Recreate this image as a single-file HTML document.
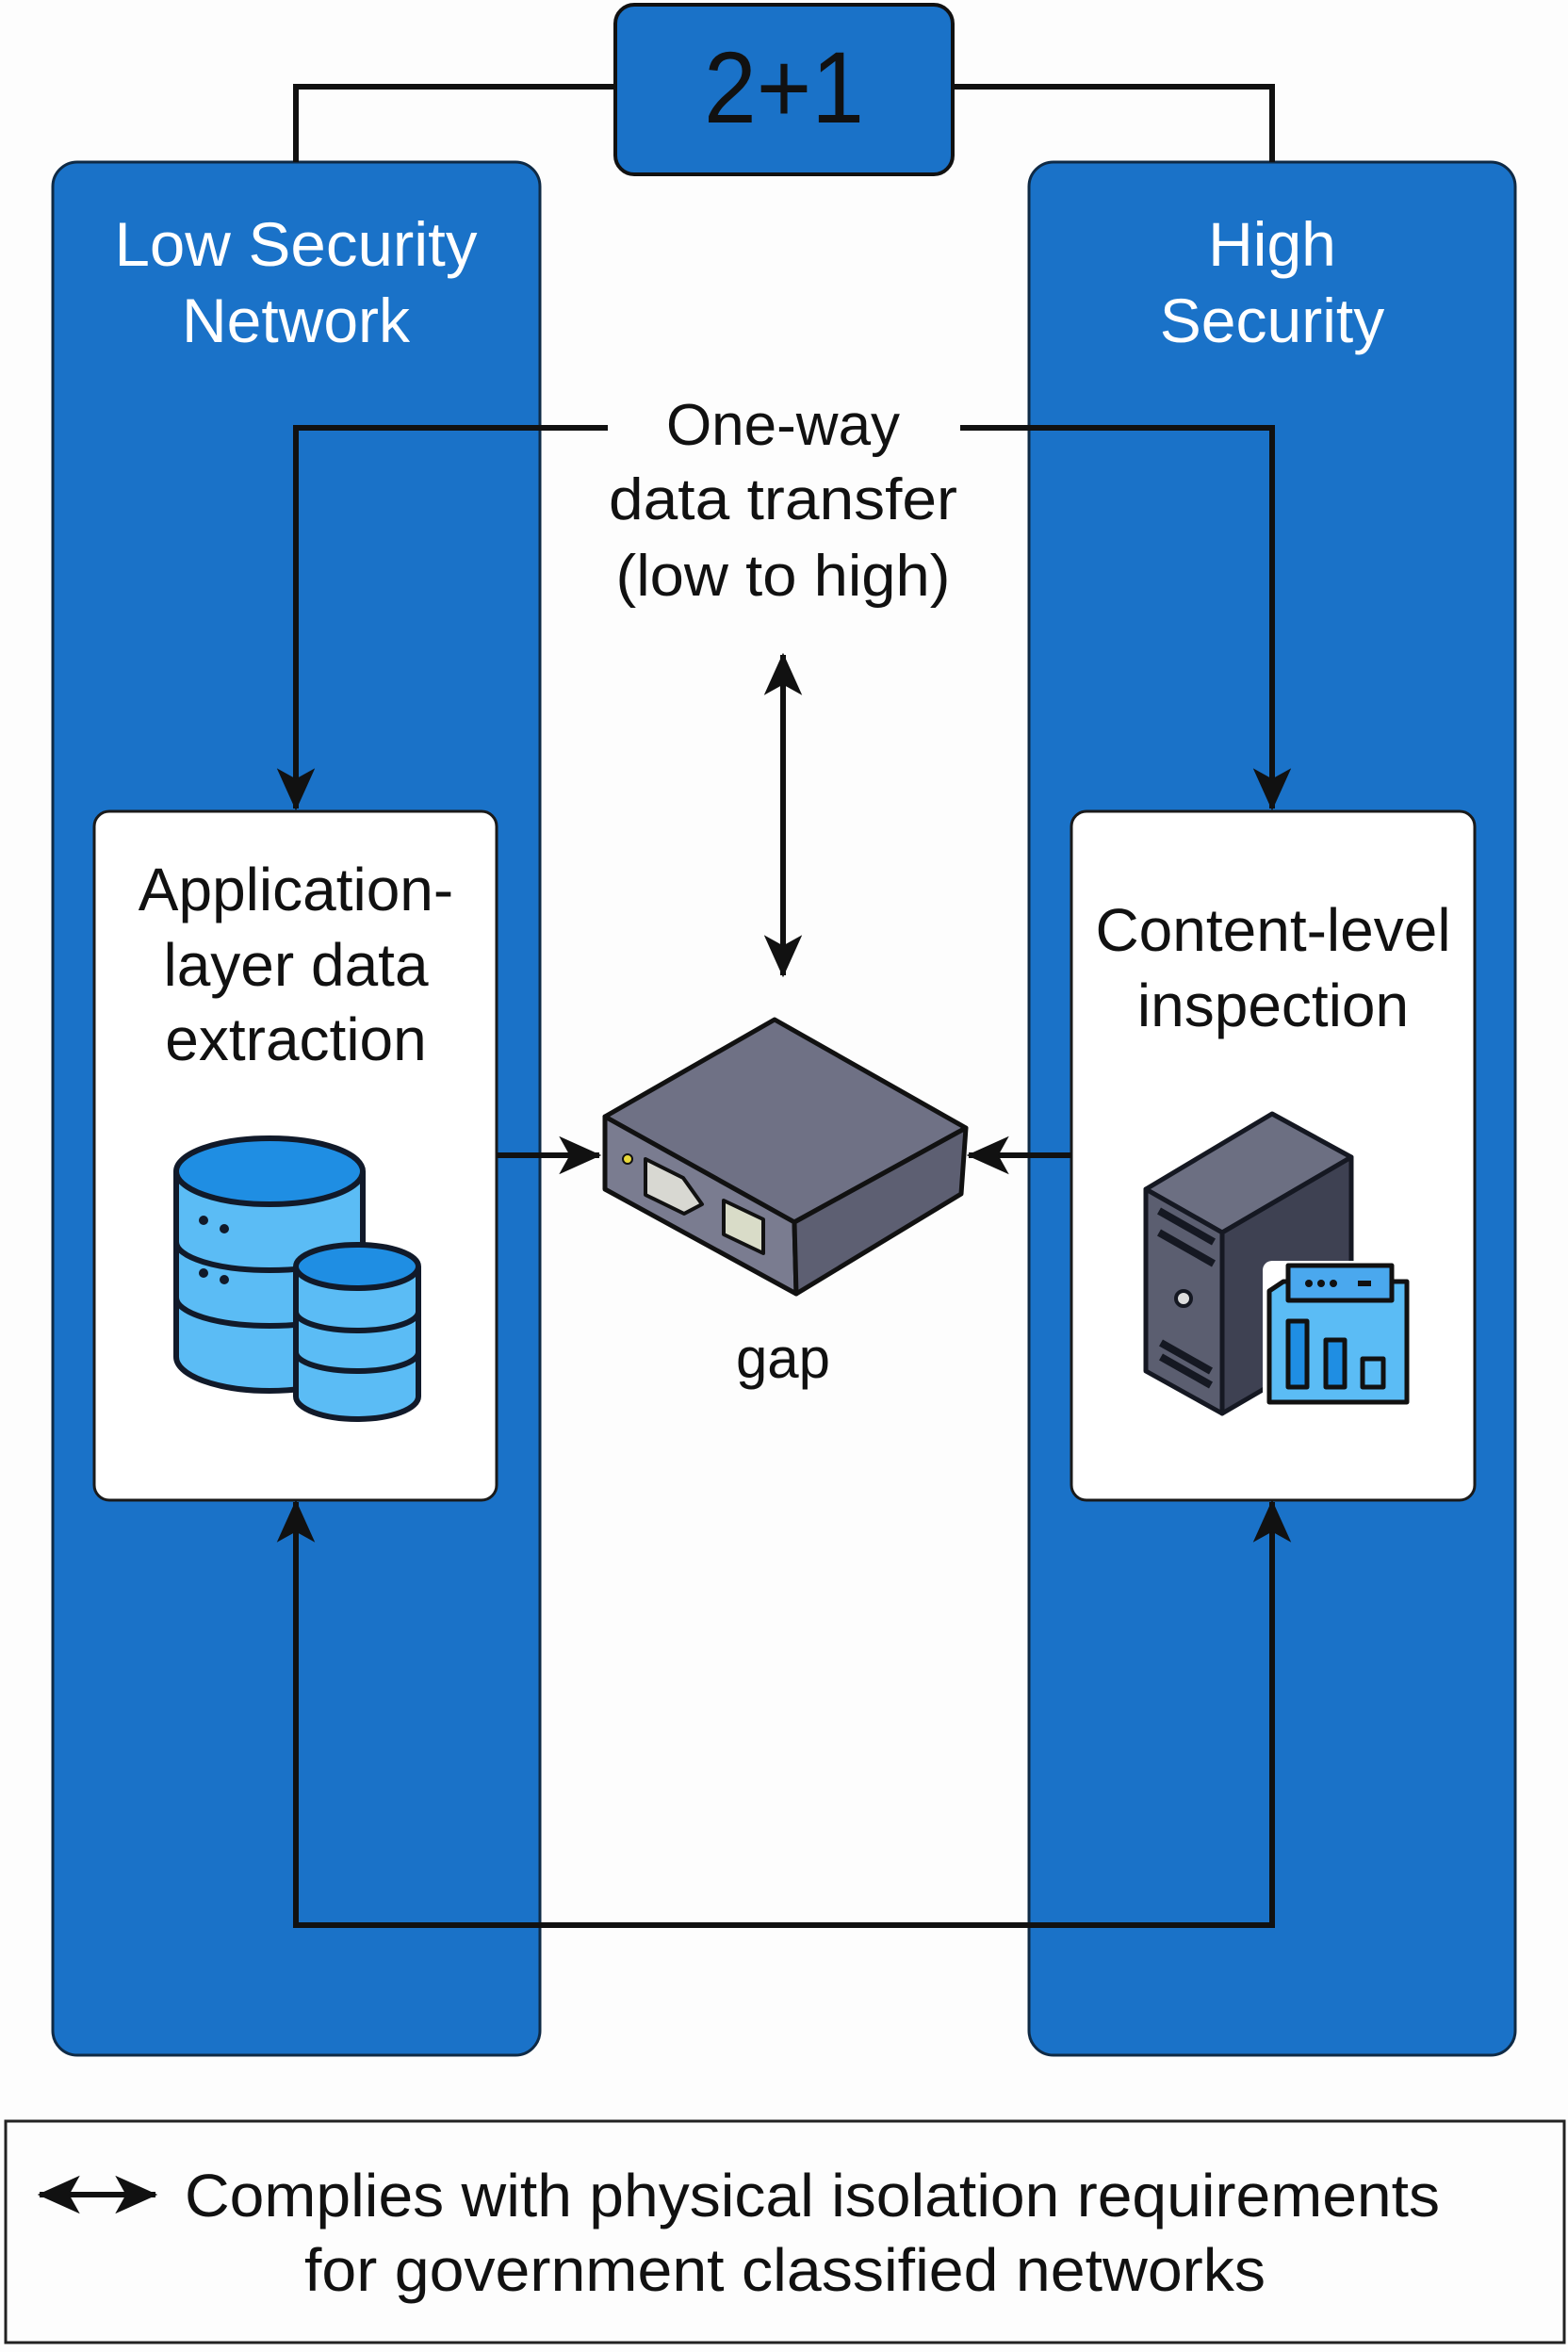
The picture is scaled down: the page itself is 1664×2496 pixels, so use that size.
<!DOCTYPE html>
<html><head><meta charset="utf-8"><style>
html,body{margin:0;padding:0;background:#fdfdfd;}
svg{display:block;}
text{font-family:"Liberation Sans",sans-serif;}
</style></head><body>
<svg width="1664" height="2496" viewBox="0 0 1664 2496" xmlns="http://www.w3.org/2000/svg">
<defs>
<marker id="ah" viewBox="0 0 20 20" refX="19" refY="10" markerWidth="7.5" markerHeight="7.5" orient="auto-start-reverse" markerUnits="strokeWidth">
<path d="M0,1 L20,10 L0,19 L5,10 Z" fill="#111"/>
</marker>
</defs>
<rect width="1664" height="2496" fill="#fdfdfd"/>
<!-- columns -->
<rect x="56" y="172" width="517" height="2009" rx="26" fill="#1a72c8" stroke="#0f2a45" stroke-width="3"/>
<rect x="1092" y="172" width="516" height="2009" rx="26" fill="#1a72c8" stroke="#0f2a45" stroke-width="3"/>
<!-- top connector -->
<path d="M314,172 V92 H653 M1011,92 H1350 V172" fill="none" stroke="#111" stroke-width="6"/>
<rect x="653" y="5" width="358" height="180" rx="20" fill="#1a72c8" stroke="#111" stroke-width="4"/>
<text x="832" y="130" font-size="108" text-anchor="middle" fill="#111" textLength="170" lengthAdjust="spacingAndGlyphs">2+1</text>
<!-- titles -->
<text x="314" y="282" font-size="66" text-anchor="middle" fill="#fff" textLength="385" lengthAdjust="spacingAndGlyphs">Low Security</text>
<text x="314" y="363" font-size="66" text-anchor="middle" fill="#fff">Network</text>
<text x="1350" y="282" font-size="66" text-anchor="middle" fill="#fff">High</text>
<text x="1350" y="363" font-size="66" text-anchor="middle" fill="#fff">Security</text>
<!-- middle label area -->
<rect x="645" y="410" width="374" height="250" fill="#fdfdfd"/>
<text x="831" y="472" font-size="62" text-anchor="middle" fill="#111">One-way</text>
<text x="831" y="551" font-size="62" text-anchor="middle" fill="#111" textLength="370" lengthAdjust="spacingAndGlyphs">data transfer</text>
<text x="831" y="632" font-size="62" text-anchor="middle" fill="#111" textLength="355" lengthAdjust="spacingAndGlyphs">(low to high)</text>
<!-- top lines -->
<path d="M645,454 H314 V858" fill="none" stroke="#111" stroke-width="6" marker-end="url(#ah)"/>
<path d="M1019,454 H1350 V858" fill="none" stroke="#111" stroke-width="6" marker-end="url(#ah)"/>
<line x1="831" y1="695" x2="831" y2="1035" stroke="#111" stroke-width="6" marker-start="url(#ah)" marker-end="url(#ah)"/>
<!-- white boxes -->
<rect x="100" y="861" width="427" height="731" rx="16" fill="#fff" stroke="#1a1a1a" stroke-width="3"/>
<rect x="1137" y="861" width="428" height="731" rx="16" fill="#fff" stroke="#1a1a1a" stroke-width="3"/>
<text x="314" y="966" font-size="64" text-anchor="middle" fill="#111">Application-</text>
<text x="314" y="1046" font-size="64" text-anchor="middle" fill="#111">layer data</text>
<text x="314" y="1125" font-size="64" text-anchor="middle" fill="#111">extraction</text>
<text x="1351" y="1009" font-size="64" text-anchor="middle" fill="#111">Content-level</text>
<text x="1351" y="1089" font-size="64" text-anchor="middle" fill="#111">inspection</text>
<!-- DB icon -->
<g stroke="#111a2a" stroke-width="6">
<path d="M187,1243 V1440 A99,36 0 0 0 385,1440 V1243" fill="#5bbcf5"/>
<ellipse cx="286" cy="1243" rx="99" ry="35" fill="#1f8ee3"/>
<path d="M187,1318 A99,30 0 0 0 385,1318 M187,1377 A99,30 0 0 0 385,1377" fill="none"/>
<path d="M314,1344 V1482 A65,24 0 0 0 444,1482 V1344" fill="#5bbcf5"/>
<ellipse cx="379" cy="1344" rx="65" ry="23" fill="#1f8ee3"/>
<path d="M314,1392 A65,20 0 0 0 444,1392 M314,1435 A65,20 0 0 0 444,1435" fill="none"/>
</g>
<g fill="#111a2a"><circle cx="216" cy="1295" r="5"/><circle cx="238" cy="1304" r="5"/><circle cx="216" cy="1351" r="5"/><circle cx="238" cy="1358" r="5"/></g>
<!-- server icon -->
<g stroke="#151822" stroke-width="5" stroke-linejoin="round">
<path d="M1216,1262 L1350,1182 L1434,1228 L1297,1308 Z" fill="#6c6f82"/>
<path d="M1297,1308 L1434,1228 L1434,1420 L1297,1500 Z" fill="#3e4152"/>
<path d="M1216,1262 L1297,1308 L1297,1500 L1216,1455 Z" fill="#5b5e70"/>
</g>
<path d="M1230,1285 L1288,1318 M1230,1308 L1288,1341 M1232,1425 L1285,1455 M1232,1440 L1285,1470" stroke="#151822" stroke-width="8"/>
<circle cx="1256" cy="1378" r="8" fill="#ddd" stroke="#151822" stroke-width="4"/>
<rect x="1340" y="1338" width="160" height="158" rx="10" fill="#fff"/>
<g stroke="#111" stroke-width="5" stroke-linejoin="round">
<path d="M1347,1370 L1362,1360 L1493,1360 L1493,1488 L1347,1488 Z" fill="#5bbcf5"/>
<rect x="1367" y="1343" width="110" height="37" fill="#4aa8ee"/>
<rect x="1367" y="1402" width="20" height="70" fill="#1f8ee3"/>
<rect x="1407" y="1422" width="20" height="50" fill="#1f8ee3"/>
<rect x="1446" y="1442" width="22" height="30" fill="#5bbcf5"/>
</g>
<g fill="#111"><circle cx="1389" cy="1362" r="4"/><circle cx="1402" cy="1362" r="4"/><circle cx="1415" cy="1362" r="4"/><rect x="1441" y="1359" width="14" height="6"/></g>
<!-- horizontal arrows -->
<line x1="527" y1="1226" x2="636" y2="1226" stroke="#111" stroke-width="6" marker-end="url(#ah)"/>
<line x1="1137" y1="1226" x2="1028" y2="1226" stroke="#111" stroke-width="6" marker-end="url(#ah)"/>
<!-- device -->
<g stroke="#111" stroke-width="5" stroke-linejoin="round">
<path d="M822,1082 L1025,1197 L843,1297 L642,1185 Z" fill="#6f7185"/>
<path d="M642,1185 L843,1297 L845,1373 L642,1262 Z" fill="#7a7c90"/>
<path d="M843,1297 L1025,1197 L1020,1267 L845,1373 Z" fill="#5d5f72"/>
<path d="M685,1230 L725,1250 L745,1278 L726,1288 L685,1268 Z" fill="#d8d8d2" stroke-width="4"/>
<path d="M768,1274 L810,1294 L810,1330 L768,1310 Z" fill="#d9dcc8" stroke-width="4"/>
</g>
<circle cx="666" cy="1230" r="5" fill="#e8d83a" stroke="#111" stroke-width="2"/>
<text x="831" y="1462" font-size="60" text-anchor="middle" fill="#111">gap</text>
<!-- bottom loop -->
<path d="M314,1594 V2043 H1350 V1594" fill="none" stroke="#111" stroke-width="6" marker-start="url(#ah)" marker-end="url(#ah)"/>
<!-- legend -->
<rect x="6" y="2251" width="1654" height="235" fill="#fdfdfd" stroke="#222" stroke-width="3"/>
<line x1="42" y1="2329" x2="165" y2="2329" stroke="#111" stroke-width="6" marker-start="url(#ah)" marker-end="url(#ah)"/>
<text x="196" y="2352" font-size="64" fill="#111" textLength="1332" lengthAdjust="spacingAndGlyphs">Complies with physical isolation requirements</text>
<text x="323" y="2431" font-size="64" fill="#111" textLength="1020" lengthAdjust="spacingAndGlyphs">for government classified networks</text>
</svg>
</body></html>
